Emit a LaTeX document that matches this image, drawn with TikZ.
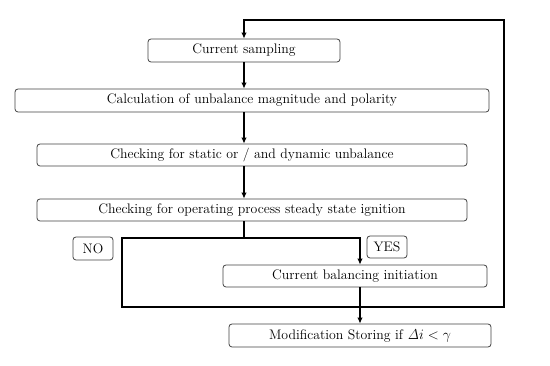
\documentclass[tikz,border=0pt]{standalone}
\usetikzlibrary{arrows.meta}
\begin{document}
\begin{tikzpicture}[x=1pt,y=-1pt,
  box/.style={draw=black!75, line width=0.8pt, rounded corners=3pt, inner sep=0pt,
    font=\fontsize{13.8}{15}\selectfont},
  flow/.style={line width=1.8pt, black, line join=miter},
  arr/.style={flow, -{Latex[length=6pt,width=5.5pt]}}]
\useasboundingbox (0,0) rectangle (550,366);
\node[box, minimum width=192pt, minimum height=23pt] (samp) at (244,50.5) {Current sampling};
\node[box, minimum width=474pt, minimum height=23pt] (calc) at (252,100.5) {Calculation of unbalance magnitude and polarity};
\node[box, minimum width=430pt, minimum height=22pt] (stat) at (252,155) {Checking for static or / and dynamic unbalance};
\node[box, minimum width=430pt, minimum height=22pt] (steady) at (252,210) {Checking for operating process steady state ignition};
\node[box, minimum width=40pt, minimum height=23pt] (no) at (93,248.5) {NO};
\node[box, minimum width=40pt, minimum height=22pt] (yes) at (387,247) {YES};
\node[box, minimum width=264pt, minimum height=22pt] (bal) at (355,276) {Current balancing initiation};
\node[box, minimum width=262pt, minimum height=23pt] (mod) at (360,335.5) {Modification Storing if $\mathit{\Delta} i < \gamma$};
\coordinate (j) at (244,238);
\coordinate (jr) at (360,238);
\coordinate (jl) at (122,238);
\coordinate (bl) at (122,307);
\coordinate (br) at (504,307);
\coordinate (tr) at (504,20);
\coordinate (tl) at (244,20);
\draw[arr] (samp.south) -- (samp.south |- calc.north);
\draw[arr] (samp.south |- calc.south) -- (samp.south |- stat.north);
\draw[arr] (samp.south |- stat.south) -- (samp.south |- steady.north);
\draw[flow] (samp.south |- steady.south) -- (j);
\draw[arr] (j) -- (jr) -- (jr |- bal.north);
\draw[arr] (jr |- bal.south) -- (jr |- mod.north);
\draw[arr] (j) -- (jl) -- (bl) -- (br) -- (tr) -- (tl) -- (samp.north);
\end{tikzpicture}
\end{document}
